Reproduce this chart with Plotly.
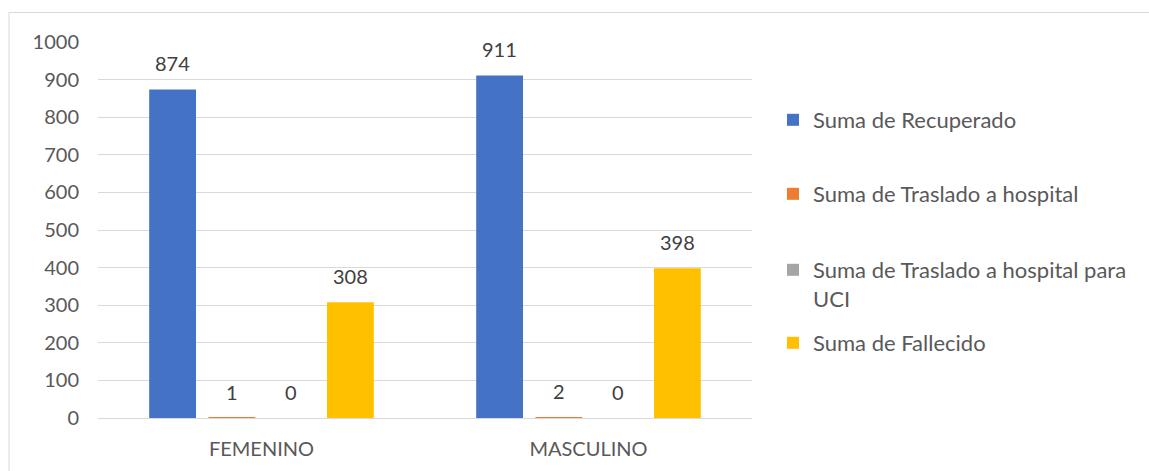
import plotly.graph_objects as go

# Categories and series
categorias = ["FEMENINO", "MASCULINO"]
series = [
    "Suma de Recuperado",
    "Suma de Traslado a hospital",
    "Suma de Traslado a hospital para<br>UCI",
    "Suma de Fallecido",
]
recuperado = [874, 911]
traslado_hospital = [1, 2]
traslado_uci = [0, 0]
fallecido = [308, 398]
valores = [recuperado, traslado_hospital, traslado_uci, fallecido]
colores = ["#4472C4", "#ED7D31", "#A5A5A5", "#FFC000"]

W, H = 1149, 471
M_L, M_R, M_T, M_B = 98, 397, 42, 53
BARGAP = 0.275
BARGROUPGAP = 0.21
FONT = "Lato"

fig = go.Figure()
nombres_leyenda = ["legend", "legend2", "legend3", "legend4"]
for i, (nombre, vals, color) in enumerate(zip(series, valores, colores)):
    fig.add_trace(go.Bar(
        x=categorias, y=vals, name=nombre, marker_color=color,
        marker_line_width=0, legend=nombres_leyenda[i],
    ))

# Data labels above each bar, placed at the bar's group slot centre
n = len(series)
slot = (1 - BARGAP) / n
for i, vals in enumerate(valores):
    for j, v in enumerate(vals):
        fig.add_annotation(
            x=j + (i - (n - 1) / 2) * slot, y=v, xref="x", yref="y",
            text=str(v), showarrow=False, yanchor="bottom", yshift=12,
            font=dict(family=FONT, size=20, color="#404040"),
        )

# Separate legends so each entry sits at its own height
plot_h = H - M_T - M_B
leg_centres = [113, 187, 263, 336]
leg_x = (773 - M_L) / (W - M_L - M_R)
legend_cfg = {}
for k, (ln, cy) in enumerate(zip(nombres_leyenda, leg_centres)):
    legend_cfg[ln] = dict(
        x=leg_x, xanchor="left",
        y=1 - (cy - 14 - M_T) / plot_h, yanchor="top",
        font=dict(family=FONT, size=22, color="#595959"),
        bgcolor="rgba(0,0,0,0)", borderwidth=0,
        itemwidth=30, valign="top", tracegroupgap=0,
        itemclick=False, itemdoubleclick=False,
    )

fig.update_layout(
    width=W, height=H,
    margin=dict(l=M_L, r=M_R, t=M_T, b=M_B, pad=0),
    paper_bgcolor="white", plot_bgcolor="white",
    barmode="group", bargap=BARGAP, bargroupgap=BARGROUPGAP,
    font=dict(family=FONT, size=20, color="#595959"),
    showlegend=True,
    **legend_cfg,
    xaxis=dict(
        showgrid=False, showline=False, zeroline=False, ticks="",
        tickfont=dict(family=FONT, size=20, color="#595959"),
        ticklabelstandoff=17,
    ),
    yaxis=dict(
        range=[0, 1000], dtick=100, showgrid=True, gridcolor="#D9D9D9",
        gridwidth=1, zeroline=True, zerolinecolor="#D9D9D9", zerolinewidth=1,
        showline=False, ticks="",
        tickfont=dict(family=FONT, size=20, color="#595959"),
        ticklabelstandoff=18,
    ),
)

# Outer chart border
fig.add_shape(
    type="rect", xref="paper", yref="paper",
    x0=(9 - M_L) / (W - M_L - M_R), x1=(1160 - M_L) / (W - M_L - M_R),
    y0=1 - (480 - M_T) / plot_h, y1=1 + (M_T - 12.5) / plot_h,
    line=dict(color="#D9D9D9", width=1), fillcolor="rgba(0,0,0,0)", layer="below",
)

fig.write_html("out.html")
